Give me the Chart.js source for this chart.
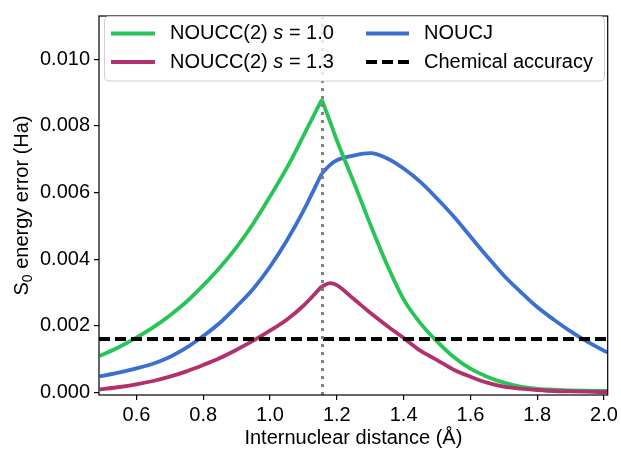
<!DOCTYPE html>
<html>
<head>
<meta charset="utf-8">
<script src="https://cdn.jsdelivr.net/npm/chart.js@4.4.0/dist/chart.umd.min.js"></script>
<style>
  html, body { margin: 0; padding: 0; background: #fff; }
  #wrap { width: 621px; height: 449px; }
</style>
</head>
<body>
<div id="wrap"><canvas id="c" width="621" height="449"></canvas></div>
<script>
// Internuclear distances (Å) at which the S0 errors were sampled
const distances = [0.49, 0.55, 0.60, 0.65, 0.70, 0.75, 0.80, 0.85, 0.90, 0.95, 1.00, 1.05, 1.10, 1.155, 1.18,
                   1.20, 1.25, 1.30, 1.35, 1.40, 1.45, 1.50, 1.55, 1.60, 1.65, 1.70, 1.75, 1.80, 1.85, 1.90, 1.95, 2.00, 2.011];

// S0 energy errors (Ha)
const noucc2S10 = [0.00109, 0.00137, 0.00164, 0.00195, 0.00231, 0.00272, 0.00321, 0.00375, 0.00436, 0.00507, 0.00588, 0.00673, 0.00770, 0.00879, 0.00812,
                   0.00757, 0.00633, 0.00505, 0.00384, 0.00279, 0.00208, 0.00153, 0.00106, 0.00071, 0.00047, 0.00029, 0.00017, 0.00010, 0.00008, 0.00006, 0.00005, 0.00004, 0.00004];
const noucc2S13 = [0.00009, 0.00016, 0.00024, 0.00034, 0.00047, 0.00063, 0.00082, 0.00103, 0.00128, 0.00155, 0.00185, 0.00218, 0.00260, 0.00318, 0.00328,
                   0.00322, 0.00281, 0.00239, 0.00200, 0.00163, 0.00125, 0.00097, 0.00068, 0.00047, 0.00029, 0.00017, 0.00011, 0.00007, 0.00004, 0.00003, 0.00002, 0.00001, 0.00001];
const noucj     = [0.00048, 0.00060, 0.00072, 0.00086, 0.00106, 0.00134, 0.00169, 0.00209, 0.00258, 0.00311, 0.00377, 0.00455, 0.00545, 0.00657, 0.00683,
                   0.00697, 0.00711, 0.00718, 0.00703, 0.00672, 0.00632, 0.00582, 0.00528, 0.00468, 0.00408, 0.00351, 0.00302, 0.00256, 0.00218, 0.00183, 0.00152, 0.00125, 0.00120];

const chemicalAccuracy = 0.0016;      // Ha (1 kcal/mol)
const equilibriumDistance = 1.157;    // Å

const xTicks = [0.6, 0.8, 1.0, 1.2, 1.4, 1.6, 1.8, 2.0];
const yTicks = [0.000, 0.002, 0.004, 0.006, 0.008, 0.010];
const xRange = [0.488, 2.011];
const yRange = [-0.00008, 0.0113];

const GREEN = '#27c456';
const PINK = '#b3306f';
const BLUE = '#3b70d0';
const FONT = '"Liberation Sans", Arial, Helvetica, sans-serif';

// The curves have a cusp at the equilibrium geometry, so each one is drawn as
// two smooth pieces that meet at that sample.
const cusp = distances.indexOf(1.155);
const pts = (ys, from, to) => distances.slice(from, to).map((x, i) => ({ x, y: ys[from + i] }));
const curve = (ys, color) => [
  { data: pts(ys, 0, cusp + 1), borderColor: color, borderWidth: 3.8, pointRadius: 0, cubicInterpolationMode: 'monotone' },
  { data: pts(ys, cusp, distances.length), borderColor: color, borderWidth: 3.8, pointRadius: 0, cubicInterpolationMode: 'monotone' }
];

// Legend rows: text pieces, italic flag per piece
const legendItems = [
  { col: 0, row: 0, color: GREEN, dash: [], parts: [['NOUCC(2) ', false], ['s', true], [' = 1.0', false]] },
  { col: 0, row: 1, color: PINK,  dash: [], parts: [['NOUCC(2) ', false], ['s', true], [' = 1.3', false]] },
  { col: 1, row: 0, color: BLUE,  dash: [], parts: [['NOUCJ', false]] },
  { col: 1, row: 1, color: '#000', dash: [11, 5], parts: [['Chemical accuracy', false]] }
];

const decorations = {
  id: 'decorations',
  afterDatasetsDraw(chart) {
    const { ctx, chartArea: a } = chart;
    ctx.save();
    ctx.strokeStyle = '#000';
    ctx.lineWidth = 1.2;
    ctx.strokeRect(a.left, a.top, a.right - a.left, a.bottom - a.top);
    ctx.restore();
  },
  afterDraw(chart) {
    const { ctx, chartArea: a } = chart;
    ctx.save();

    // legend frame
    const bx = 104.5, by = 16.5, bw = 500, bh = 64.5;
    ctx.beginPath();
    ctx.roundRect(bx, by, bw, bh, 4);
    ctx.fillStyle = 'rgba(255,255,255,0.8)';
    ctx.fill();
    ctx.strokeStyle = '#d0d0d0';
    ctx.lineWidth = 1;
    ctx.stroke();

    const colHandle = [[111, 155], [366, 409]];
    const colText = [170, 424];
    const rowY = [33.5, 62];
    ctx.textBaseline = 'middle';
    ctx.textAlign = 'left';
    legendItems.forEach(it => {
      const y = rowY[it.row];
      ctx.beginPath();
      ctx.setLineDash(it.dash);
      ctx.strokeStyle = it.color;
      ctx.lineWidth = it.dash.length ? 4 : 3.8;
      ctx.moveTo(colHandle[it.col][0], y);
      ctx.lineTo(colHandle[it.col][1], y);
      ctx.stroke();
      ctx.setLineDash([]);
      let x = colText[it.col];
      ctx.fillStyle = '#000';
      it.parts.forEach(([t, italic]) => {
        ctx.font = (italic ? 'italic ' : '') + '20px ' + FONT;
        ctx.fillText(t, x, y);
        x += ctx.measureText(t).width;
      });
    });

    // x axis title
    ctx.font = '20px ' + FONT;
    ctx.fillStyle = '#000';
    ctx.textAlign = 'center';
    ctx.fillText('Internuclear distance (Å)', (a.left + a.right) / 2, 438);

    // y axis title with subscript
    const cy = (a.top + a.bottom) / 2;
    ctx.translate(22, cy);
    ctx.rotate(-Math.PI / 2);
    ctx.textAlign = 'left';
    ctx.font = '20px ' + FONT;
    const wS = ctx.measureText('S').width;
    const rest = ' energy error (Ha)';
    const wR = ctx.measureText(rest).width;
    ctx.font = '14px ' + FONT;
    const w0 = ctx.measureText('0').width;
    let x0 = -(wS + w0 + wR) / 2;
    ctx.font = '20px ' + FONT;
    ctx.fillText('S', x0, 0);
    ctx.font = '14px ' + FONT;
    ctx.fillText('0', x0 + wS, 6);
    ctx.font = '20px ' + FONT;
    ctx.fillText(rest, x0 + wS + w0, 0);

    ctx.restore();
  }
};

new Chart(document.getElementById('c'), {
  type: 'line',
  data: {
    datasets: [
      { data: [{ x: equilibriumDistance, y: yRange[0] }, { x: equilibriumDistance, y: yRange[1] }],
        borderColor: '#808080', borderWidth: 3, borderDash: [3, 5], pointRadius: 0 },
      { data: [{ x: xRange[0], y: chemicalAccuracy }, { x: xRange[1], y: chemicalAccuracy }],
        borderColor: '#000', borderWidth: 4, borderDash: [11, 5], pointRadius: 0 },
      ...curve(noucc2S13, PINK),
      ...curve(noucc2S10, GREEN),
      ...curve(noucj, BLUE)
    ]
  },
  options: {
    responsive: false,
    animation: false,
    devicePixelRatio: 1,
    layout: { padding: { top: 6.5, right: 11, left: 0, bottom: 0 } },
    elements: { line: { tension: 0, borderJoinStyle: 'round', borderCapStyle: 'butt' } },
    plugins: { legend: { display: false }, tooltip: { enabled: false } },
    scales: {
      x: {
        type: 'linear', min: xRange[0], max: xRange[1],
        afterBuildTicks: s => { s.ticks = xTicks.map(v => ({ value: v })); },
        afterFit: s => { s.height = 54; },
        ticks: { callback: v => v.toFixed(1), color: '#000', font: { family: FONT, size: 20 }, padding: 3, maxRotation: 0, autoSkip: false },
        grid: { drawOnChartArea: false, drawTicks: true, tickLength: 5, color: '#000', lineWidth: 1.2 },
        border: { display: false }
      },
      y: {
        type: 'linear', min: yRange[0], max: yRange[1],
        afterBuildTicks: s => { s.ticks = yTicks.map(v => ({ value: v })); },
        afterFit: s => { s.width = 99; },
        ticks: { callback: v => v.toFixed(3), color: '#000', font: { family: FONT, size: 20 }, padding: 4, autoSkip: false },
        grid: { drawOnChartArea: false, drawTicks: true, tickLength: 5, color: '#000', lineWidth: 1.2 },
        border: { display: false }
      }
    }
  },
  plugins: [decorations]
});
</script>
</body>
</html>
